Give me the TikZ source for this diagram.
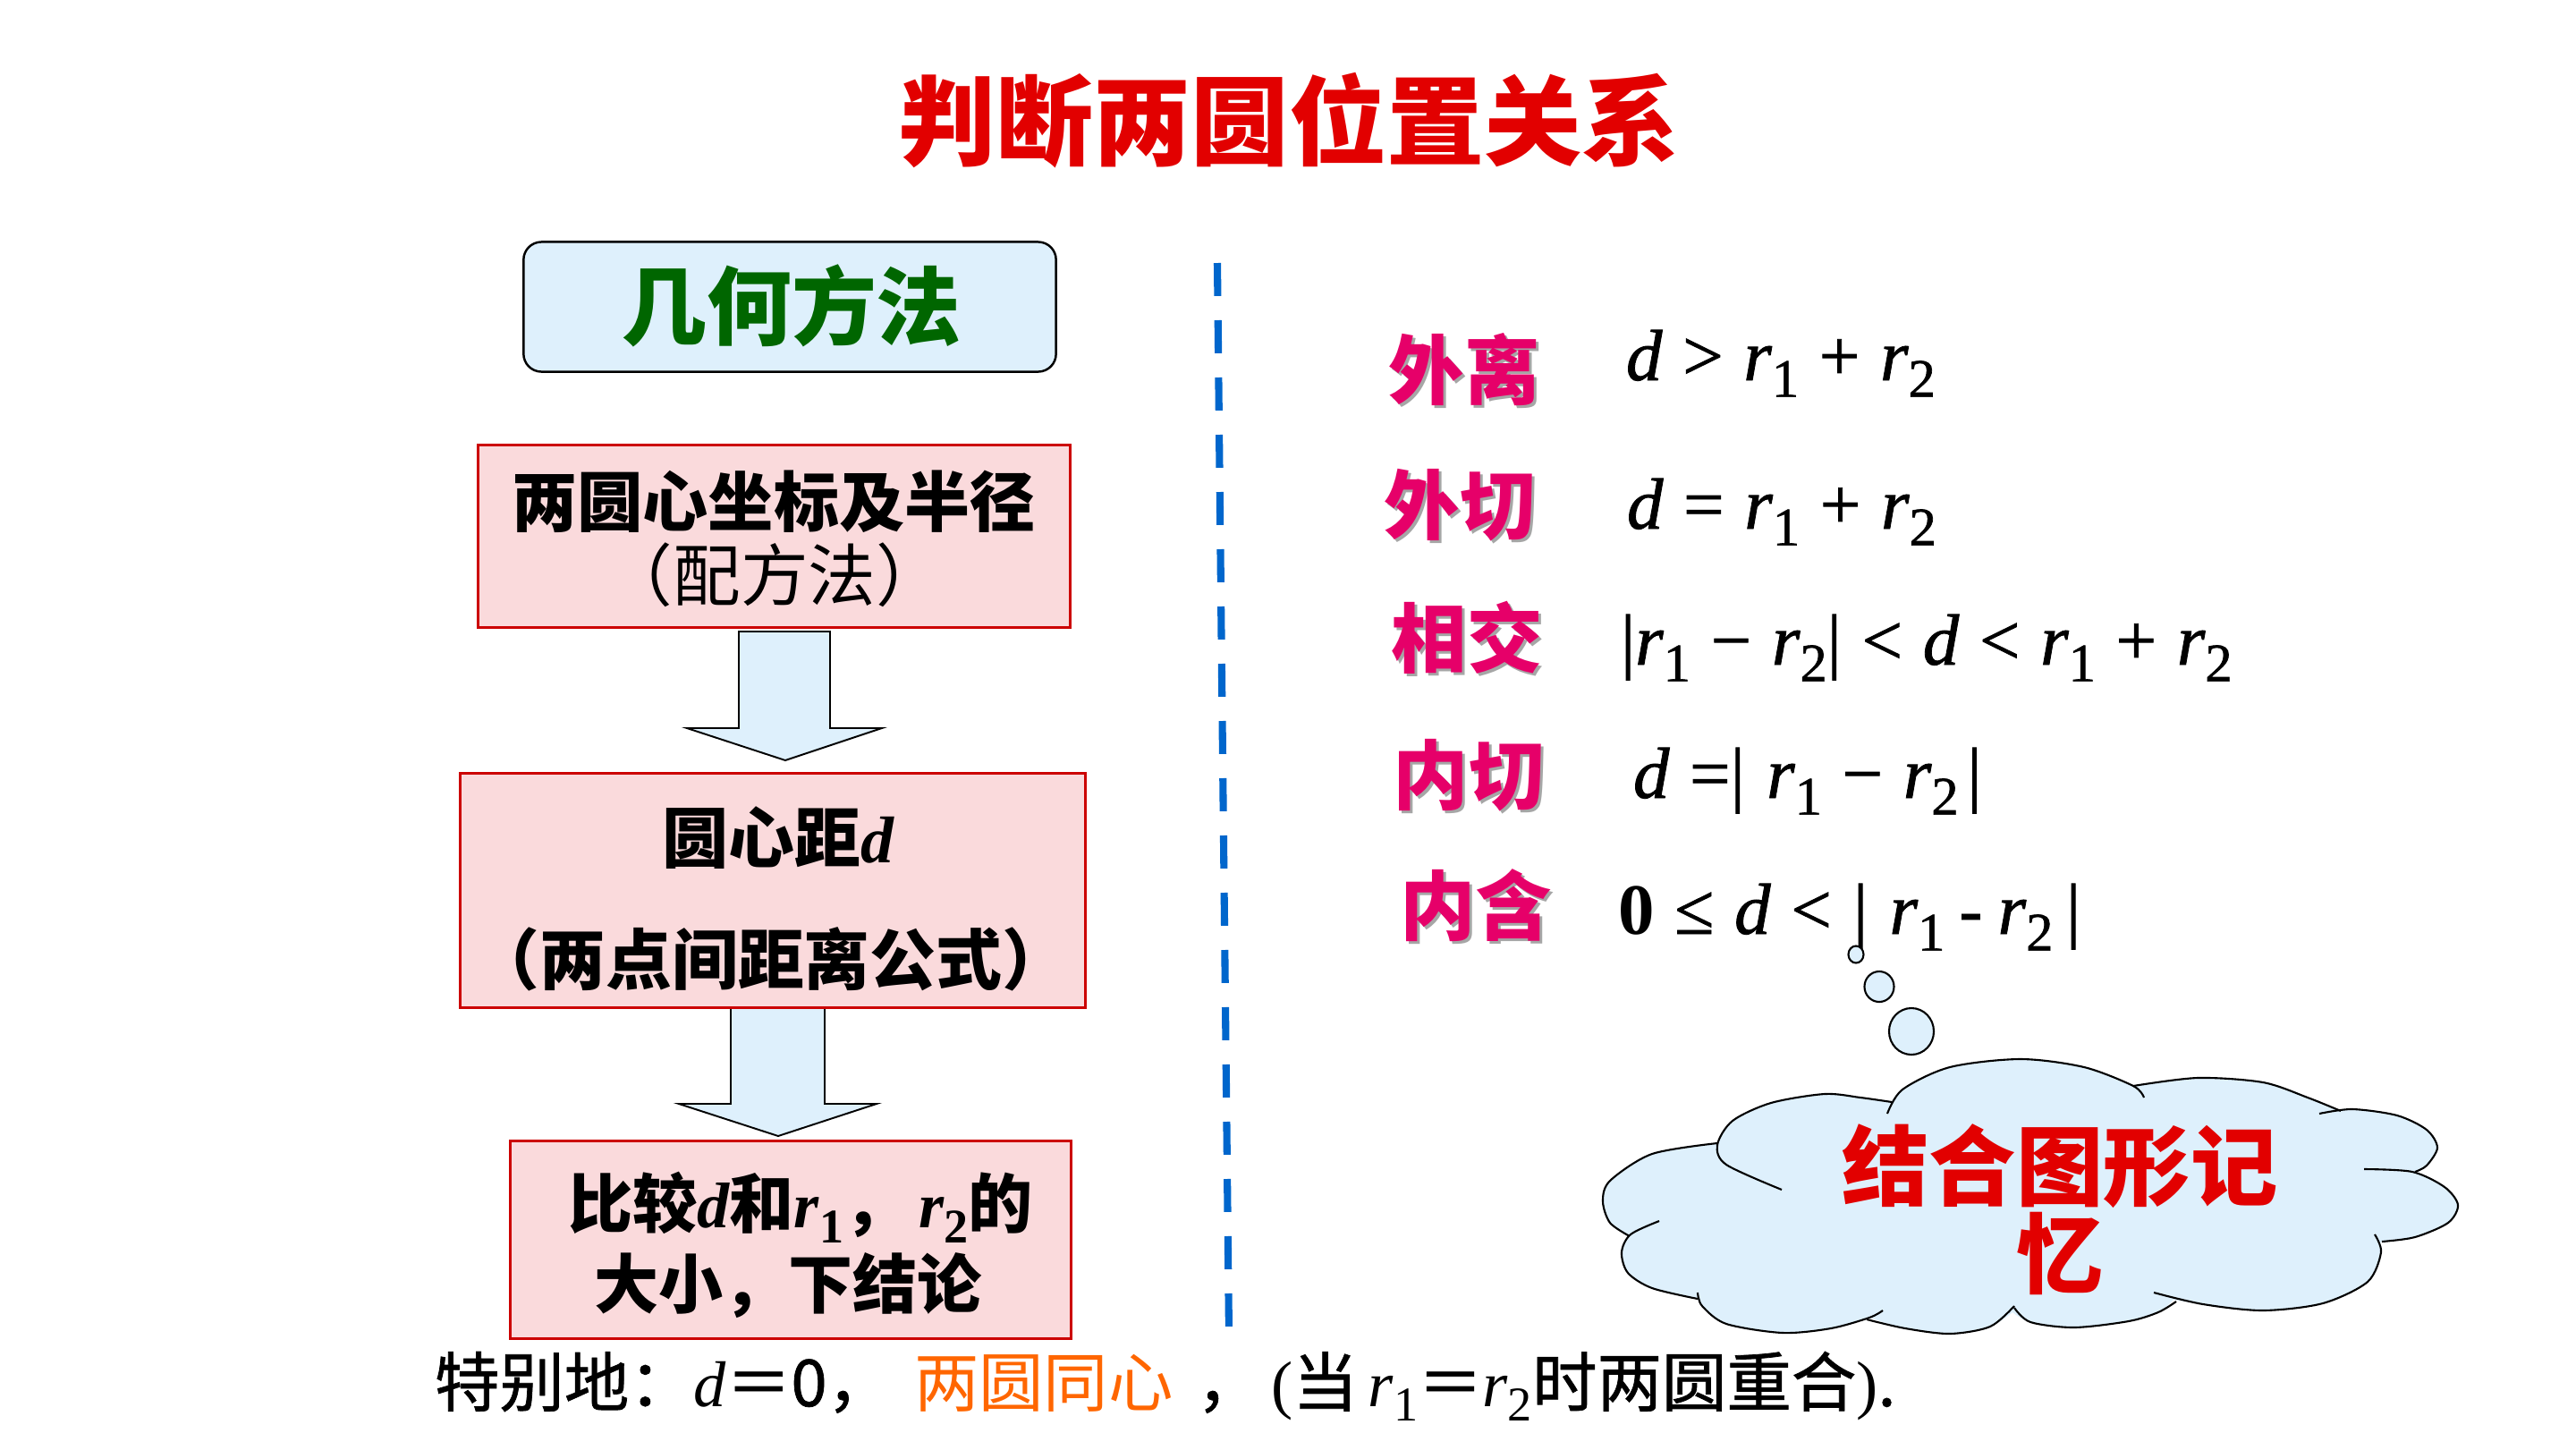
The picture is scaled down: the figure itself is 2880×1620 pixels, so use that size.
\documentclass[tikz,border=0pt]{standalone}
\usepackage{fontspec}
\usepackage{graphicx}
\setmainfont{Liberation Serif}
\newfontfamily\fmlf{Liberation Serif}[FakeBold=1]
\newfontfamily\cjk{Noto Sans CJK SC}
\newfontfamily\cjkmed{Noto Sans CJK SC}[FakeBold=1]
\definecolor{ttlred}{RGB}{226,0,0}
\definecolor{ggreen}{RGB}{0,102,0}
\definecolor{lblue}{RGB}{222,240,252}
\definecolor{lpink}{RGB}{250,218,220}
\definecolor{bred}{RGB}{204,0,0}
\definecolor{mag}{RGB}{230,0,105}
\definecolor{dblue}{RGB}{0,102,204}
\definecolor{orng}{RGB}{255,102,0}
\newcommand\fsz[1]{\fontsize{#1}{#1}\selectfont}
\newcommand\mi[1]{{\rmfamily\itshape #1}}
\newcommand\mif[1]{{\fmlf\itshape #1}}
\newcommand\mib[1]{{\rmfamily\bfseries\itshape #1}}
\newcommand\subn[1]{\raisebox{-0.23em}{\scalebox{0.75}{\rmfamily\upshape #1}}}
\newcommand\subf[1]{\raisebox{-0.23em}{\scalebox{0.75}{\fmlf\upshape #1}}}
\newcommand\gp{\hspace{0.28em}}
\tikzset{
  txt/.style={inner sep=0pt, outer sep=0pt},
  geobox/.style={draw=black, line width=0.7pt, fill=lblue, rounded corners=0.2cm, inner sep=0pt},
  pinkbox/.style={draw=bred, line width=0.85pt, fill=lpink, inner sep=0pt},
  barrow/.style={draw=black, line width=0.55pt, fill=lblue, line join=miter},
  lbl/.style={txt, font=\cjk\bfseries\fsz{24}, text=mag},
  lblsh/.style={txt, font=\cjk\bfseries\fsz{24}, text=black!35},
  fml/.style={txt, anchor=base west, font=\fmlf\fsz{23}},
  cloudline/.style={draw=black, line width=0.6pt},
  bubble/.style={draw=black, line width=0.6pt, fill=lblue}
}
\begin{document}
\begin{tikzpicture}[x=0.01cm, y=-0.01cm]
\fill[white] (0,0) rectangle (2880,1620);
\useasboundingbox (0,0) rectangle (2880,1620);

% title
\node[txt, font=\cjk\bfseries\fsz{31}, text=ttlred] (title) at (1441,135) {判断两圆位置关系};

% left flow
\node[geobox, minimum width=5.95cm, minimum height=1.45cm] (geo) at (883,343) {};
\node[txt, font=\cjk\bfseries\fsz{27}, text=ggreen] (geot) at (885,342) {几何方法};

\draw[barrow] (826,706) -- (928,706) -- (928,814) -- (986,814) -- (878,850) -- (768,814) -- (826,814) -- cycle;
\draw[barrow] (817,1126) -- (922,1126) -- (922,1234) -- (980,1234) -- (870,1270) -- (759,1234) -- (817,1234) -- cycle;

\node[pinkbox, minimum width=6.61cm, minimum height=2.03cm] (b1) at (865.5,599.5) {};
\node[txt, font=\cjk\bfseries\fsz{20.8}] (b1a) at (865,561) {两圆心坐标及半径};
\node[txt, font=\cjk\fsz{21.5}] (b1b) at (866,643) {（配方法）};

\node[pinkbox, minimum width=6.98cm, minimum height=2.61cm] (b2) at (864,995.5) {};
\node[txt, font=\cjk\bfseries\fsz{21}] (b2a) at (870,937) {圆心距\mib{d}};
\node[txt, font=\cjk\bfseries\fsz{21}] (b2b) at (862,1072) {（两点间距离公式）};

\node[pinkbox, minimum width=6.26cm, minimum height=2.2cm] (b3) at (884,1386) {};
\node[txt, font=\cjk\bfseries\fsz{20.5}] (b3a) at (895,1350) {比较\mib{d}和\mib{r}\subn{\bfseries 1}，\,\mib{r}\subn{\bfseries 2}的};
\node[txt, font=\cjk\bfseries\fsz{20.5}] (b3b) at (881,1437) {大小，下结论};

% dashed separator
\coordinate (dtop) at (1361,294);
\coordinate (dbot) at (1374,1492);
\draw[dblue, line width=2.3pt, dash pattern=on 10.5pt off 7.7pt] (dtop) -- (dbot);

% right labels
\node[lblsh] at (1640,416) {外离};
\node[lbl] (l1) at (1637,413) {外离};
\node[lblsh] at (1635,568) {外切};
\node[lbl] (l2) at (1632,565) {外切};
\node[lblsh] at (1643,716) {相交};
\node[lbl] (l3) at (1640,713) {相交};
\node[lblsh] at (1645,870) {内切};
\node[lbl] (l4) at (1642,867) {内切};
\node[lblsh] at (1653,1015) {内含};
\node[lbl] (l5) at (1650,1012) {内含};

% formulas
\node[fml] (f1) at (1818,425) {\mif{d}\gp>\gp\mif{r}\subf{1}\gp+\gp\mif{r}\subf{2}};
\node[fml] (f2) at (1819,591) {\mif{d}\gp=\gp\mif{r}\subf{1}\gp+\gp\mif{r}\subf{2}};
\node[fml] (f3) at (1812,743) {|\mif{r}\subf{1}\gp−\gp\mif{r}\subf{2}|\gp<\gp\mif{d}\gp<\gp\mif{r}\subf{1}\gp+\gp\mif{r}\subf{2}};
\node[fml] (f4) at (1826,892) {\mif{d}\gp=|\hspace{0.3em}\mif{r}\subf{1}\gp−\gp\mif{r}\subf{2}\hspace{0.12em}|};
\node[fml] (f5) at (1809,1044) {{\rmfamily\bfseries 0}\gp≤\gp\mif{d}\gp<\hspace{0.3em}|\hspace{0.3em}\mif{r}\subf{1}\hspace{0.2em}{\rmfamily\bfseries -}\hspace{0.2em}\mif{r}\subf{2}\hspace{0.18em}|};

% thought bubbles
\draw[bubble] (2075,1067) ellipse [x radius=0.085cm, y radius=0.095cm];
\draw[bubble] (2101,1103) ellipse [x radius=0.165cm, y radius=0.17cm];
\draw[bubble] (2137,1153) ellipse [x radius=0.25cm, y radius=0.26cm];

% cloud fill
\fill[lblue]
  plot[smooth] coordinates {(1920,1278) (1937,1253) (1980,1233) (2040,1223) (2080,1227) (2115,1232)}
  -- plot[smooth] coordinates {(2115,1232) (2127,1218) (2180,1193) (2259,1184) (2330,1193) (2385,1214)}
  -- plot[smooth] coordinates {(2385,1214) (2457,1205) (2530,1210) (2580,1227) (2612,1241)}
  -- plot[smooth] coordinates {(2612,1241) (2630,1240) (2680,1247) (2713,1263) (2725,1283) (2713,1303) (2700,1310)}
  -- plot[smooth] coordinates {(2700,1310) (2733,1327) (2748,1347) (2737,1367) (2700,1383) (2663,1388)}
  -- plot[smooth] coordinates {(2661,1389) (2662,1400) (2647,1433) (2597,1457) (2530,1465) (2463,1458) (2430,1453)}
  -- plot[smooth] coordinates {(2430,1453) (2413,1467) (2380,1477) (2319,1484) (2270,1478) (2250,1467)}
  -- plot[smooth] coordinates {(2250,1467) (2225,1483) (2180,1491) (2130,1485) (2090,1473)}
  -- plot[smooth] coordinates {(2090,1473) (2047,1485) (1993,1490) (1930,1480) (1903,1460) (1898,1452)}
  -- plot[smooth] coordinates {(1898,1452) (1847,1440) (1820,1423) (1813,1400) (1822,1382)}
  -- plot[smooth] coordinates {(1822,1382) (1800,1367) (1792,1343) (1800,1320) (1847,1290) (1920,1278)}
  -- cycle;
% cloud outline with inner tails
\draw[cloudline] plot[smooth] coordinates {(1992,1330) (1930,1302) (1920,1280) (1937,1253) (1980,1233) (2040,1223) (2080,1227) (2115,1232)};
\draw[cloudline] plot[smooth] coordinates {(2110,1245) (2127,1218) (2180,1193) (2259,1184) (2330,1193) (2385,1214) (2397,1227)};
\draw[cloudline] plot[smooth] coordinates {(2385,1214) (2457,1205) (2530,1210) (2580,1227) (2617,1242)};
\draw[cloudline] plot[smooth] coordinates {(2593,1245) (2630,1240) (2680,1247) (2713,1263) (2725,1283) (2713,1303) (2700,1310)};
\draw[cloudline] plot[smooth] coordinates {(2643,1307) (2697,1310) (2733,1327) (2748,1347) (2737,1367) (2700,1383) (2663,1388)};
\draw[cloudline] plot[smooth] coordinates {(2655,1380) (2662,1400) (2647,1433) (2597,1457) (2530,1465) (2463,1458) (2408,1445)};
\draw[cloudline] plot[smooth] coordinates {(2433,1455) (2413,1467) (2380,1477) (2319,1484) (2270,1478) (2252,1462)};
\draw[cloudline] plot[smooth] coordinates {(2087,1475) (2130,1485) (2180,1491) (2225,1483) (2252,1460)};
\draw[cloudline] plot[smooth] coordinates {(1898,1445) (1903,1460) (1930,1480) (1993,1490) (2047,1485) (2090,1473) (2105,1465)};
\draw[cloudline] plot[smooth] coordinates {(1855,1365) (1823,1380) (1813,1400) (1820,1423) (1847,1440) (1898,1452)};
\draw[cloudline] plot[smooth] coordinates {(1920,1278) (1847,1290) (1800,1320) (1792,1343) (1800,1367) (1822,1382)};
\node[txt, font=\cjk\bfseries\fsz{27.7}, text=ttlred, align=center] (cloudt) at (2303,1352)
  {\fontsize{27.7}{31.3}\selectfont 结合图形记\\忆};

% bottom line
\node[txt, anchor=base west, font=\cjkmed\fsz{20.6}] (note1) at (486,1572) {特别地：\mi{d}＝0，};
\node[txt, anchor=base west, font=\cjk\fsz{20.6}, text=orng] (note2) at (1022,1572) {两圆同心};
\node[txt, anchor=base west, font=\cjkmed\fsz{20.6}] (note3) at (1338,1572) {，\hspace{0.15em}{\rmfamily(}当\,\mi{r}\subn{1}＝\mi{r}\subn{2}时两圆重合{\rmfamily)}.};
\end{tikzpicture}
\end{document}
